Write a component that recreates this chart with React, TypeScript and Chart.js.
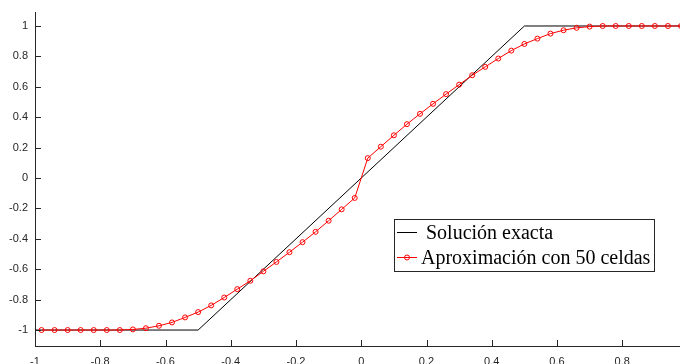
import React, { useEffect, useRef } from "react";
import { Chart, registerables } from "chart.js";

Chart.register(...registerables);

const cellCenters = [
  -0.98, -0.94, -0.9, -0.86, -0.82, -0.78, -0.74, -0.7, -0.66, -0.62,
  -0.58, -0.54, -0.5, -0.46, -0.42, -0.38, -0.34, -0.3, -0.26, -0.22,
  -0.18, -0.14, -0.1, -0.06, -0.02, 0.02, 0.06, 0.1, 0.14, 0.18,
  0.22, 0.26, 0.3, 0.34, 0.38, 0.42, 0.46, 0.5, 0.54, 0.58,
  0.62, 0.66, 0.7, 0.74, 0.78, 0.82, 0.86, 0.9, 0.94, 0.98,
];
const approxValues = [
  -1, -1, -1, -1, -1, -1, -1, -0.996, -0.988, -0.972,
  -0.95, -0.917, -0.882, -0.838, -0.786, -0.731, -0.676, -0.614, -0.552, -0.488,
  -0.422, -0.354, -0.281, -0.206, -0.131, 0.131, 0.206, 0.281, 0.354, 0.422,
  0.488, 0.552, 0.614, 0.676, 0.731, 0.786, 0.838, 0.882, 0.917, 0.95,
  0.972, 0.988, 0.996, 1, 1, 1, 1, 1, 1, 1,
];
const exactX = [-1, -0.5, 0.5, 1];
const exactY = [-1, -1, 1, 1];
const xTickValues = [-1, -0.8, -0.6, -0.4, -0.2, 0, 0.2, 0.4, 0.6, 0.8];
const yTickValues = [-1, -0.8, -0.6, -0.4, -0.2, 0, 0.2, 0.4, 0.6, 0.8, 1];
const labelExact = "Solución exacta";
const labelApprox = "Aproximación con 50 celdas";

const AXIS_COLOR = "#262626";

const tickPlugin = {
  id: "inwardTicks",
  afterDatasetsDraw(chart: any) {
    const { ctx, chartArea } = chart;
    const xs = chart.scales.x;
    const ys = chart.scales.y;
    ctx.save();
    ctx.strokeStyle = AXIS_COLOR;
    ctx.lineWidth = 1;
    ctx.beginPath();
    xs.ticks.forEach((t: any) => {
      const px = Math.round(xs.getPixelForValue(t.value)) + 0.5;
      ctx.moveTo(px, chartArea.bottom);
      ctx.lineTo(px, chartArea.bottom - 6);
    });
    ys.ticks.forEach((t: any) => {
      const py = Math.round(ys.getPixelForValue(t.value)) + 0.5;
      ctx.moveTo(chartArea.left, py);
      ctx.lineTo(chartArea.left + 6, py);
    });
    ctx.stroke();
    ctx.restore();
  },
};

const legendPlugin = {
  id: "boxLegend",
  afterDraw(chart: any) {
    const ctx = chart.ctx;
    const ds = chart.data.datasets;
    ctx.save();
    const bx = 394.5, by = 219.5, bw = 260, bh = 52;
    ctx.fillStyle = "#ffffff";
    ctx.fillRect(bx, by, bw, bh);
    ctx.strokeStyle = AXIS_COLOR;
    ctx.lineWidth = 1;
    ctx.strokeRect(bx, by, bw, bh);
    ctx.font = "20px 'Liberation Serif'";
    ctx.fillStyle = "#000000";
    ctx.textBaseline = "middle";
    const rows = [
      { d: ds[0], y: 232.5, tx: 426 },
      { d: ds[1], y: 257.5, tx: 421 },
    ];
    rows.forEach((r) => {
      ctx.strokeStyle = r.d.borderColor;
      ctx.lineWidth = 1;
      ctx.beginPath();
      ctx.moveTo(397, r.y);
      ctx.lineTo(417, r.y);
      ctx.stroke();
      if (r.d.pointRadius > 0) {
        ctx.beginPath();
        ctx.arc(407, r.y, r.d.pointRadius, 0, Math.PI * 2);
        ctx.strokeStyle = r.d.pointBorderColor;
        ctx.stroke();
      }
      ctx.fillStyle = "#000000";
      ctx.fillText(r.d.label, r.tx, r.y + 1);
    });
    ctx.restore();
  },
};

export default function App() {
  const ref = useRef<HTMLCanvasElement | null>(null);
  useEffect(() => {
    if (!ref.current) return;
    const chart = new Chart(ref.current, {
      type: "line",
      data: {
        datasets: [
          {
            label: labelExact,
            data: exactX.map((x, i) => ({ x, y: exactY[i] })),
            borderColor: "#000000",
            borderWidth: 1,
            pointRadius: 0,
            fill: false,
            order: 2,
          },
          {
            label: labelApprox,
            data: cellCenters.map((x, i) => ({ x, y: approxValues[i] })),
            borderColor: "#ff0000",
            borderWidth: 1,
            pointRadius: 2.5,
            pointBorderColor: "#ff0000",
            pointBackgroundColor: "rgba(0,0,0,0)",
            pointBorderWidth: 1,
            fill: false,
            order: 1,
          },
        ],
      },
      options: {
        animation: false,
        responsive: false,
        layout: { autoPadding: false, padding: { top: 12, right: 0, left: 0, bottom: 0 } },
        plugins: {
          legend: { display: false },
          tooltip: { enabled: false },
        },
        scales: {
          x: {
            type: "linear",
            min: -1,
            max: 0.977,
            afterBuildTicks: (s: any) => {
              s.ticks = xTickValues.map((v) => ({ value: v }));
            },
            afterFit: (s: any) => {
              s.height = 18;
              s.paddingLeft = 0;
              s.paddingRight = 0;
            },
            grid: { display: false, drawTicks: false },
            border: { display: true, color: AXIS_COLOR, width: 1 },
            ticks: {
              color: AXIS_COLOR,
              font: { family: "'Liberation Sans'", size: 11 },
              padding: 9,
              maxRotation: 0,
              autoSkip: false,
              callback: (v: any) => String(Math.round(Number(v) * 10) / 10),
            },
          },
          y: {
            type: "linear",
            min: -1.105,
            max: 1.092,
            afterBuildTicks: (s: any) => {
              s.ticks = yTickValues.map((v) => ({ value: v }));
            },
            afterFit: (s: any) => {
              s.width = 35;
              s.paddingTop = 0;
              s.paddingBottom = 0;
            },
            grid: { display: false, drawTicks: false },
            border: { display: true, color: AXIS_COLOR, width: 1 },
            ticks: {
              color: AXIS_COLOR,
              font: { family: "'Liberation Sans'", size: 11 },
              padding: 7,
              autoSkip: false,
              callback: (v: any) => String(Math.round(Number(v) * 10) / 10),
            },
          },
        },
      },
      plugins: [tickPlugin, legendPlugin],
    });
    return () => chart.destroy();
  }, []);
  return (
    <div style={{ position: "fixed", left: 0, top: 0, width: 680, height: 364, background: "#fff" }}>
      <canvas ref={ref} width={680} height={364} style={{ width: 680, height: 364, display: "block" }} />
    </div>
  );
}
